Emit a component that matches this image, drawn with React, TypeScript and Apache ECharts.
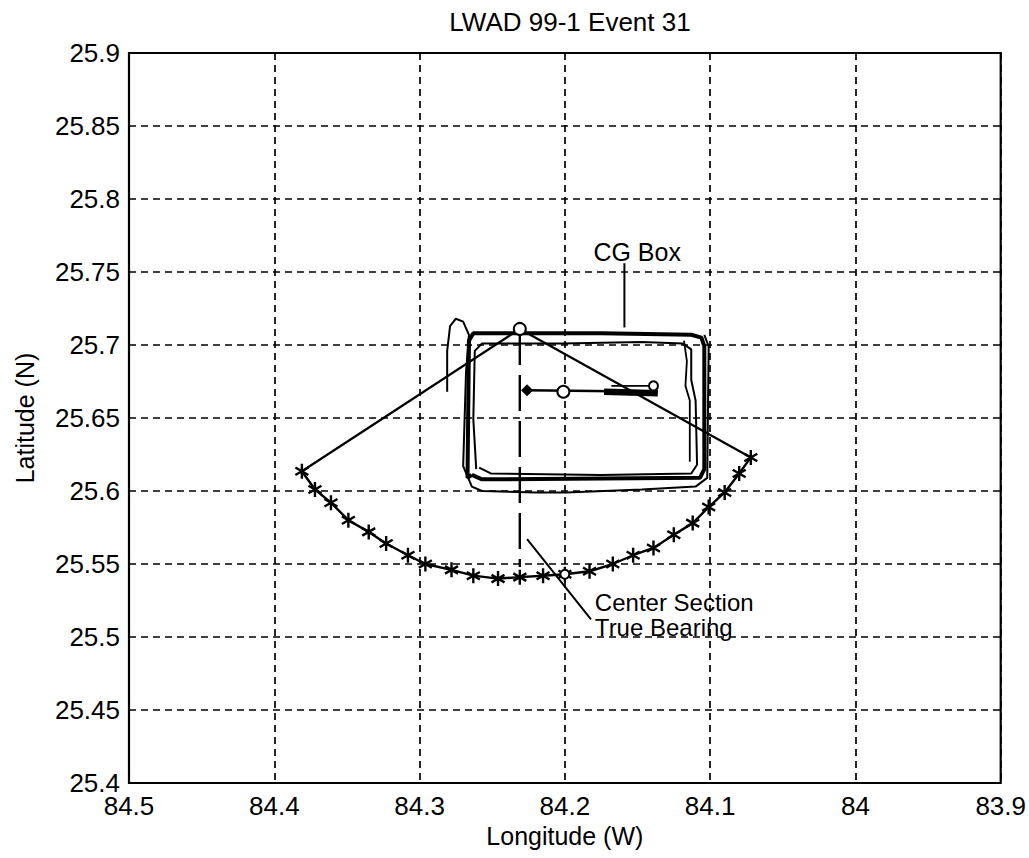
import React, { useEffect, useRef } from 'react';
import * as echarts from 'echarts';

const TITLE = 'LWAD 99-1 Event 31';
const X_NAME = 'Longitude (W)';
const Y_NAME = 'Latitude (N)';
const X_MIN = 83.9;
const X_MAX = 84.5;
const X_STEP = 0.1;
const Y_MIN = 25.4;
const Y_MAX = 25.9;
const Y_STEP = 0.05;

// Sonobuoy arc (asterisks)
const arcStars: [number, number][] = [
  [84.381, 25.6135], [84.372, 25.601], [84.361, 25.592], [84.349, 25.58],
  [84.335, 25.572], [84.323, 25.564], [84.308, 25.556], [84.296, 25.55],
  [84.278, 25.546], [84.263, 25.542], [84.246, 25.54], [84.231, 25.541],
  [84.215, 25.542], [84.2, 25.543], [84.183, 25.545], [84.167, 25.55],
  [84.153, 25.556], [84.139, 25.561], [84.125, 25.57], [84.112, 25.578],
  [84.101, 25.589], [84.09, 25.599], [84.08, 25.612], [84.072, 25.623],
];

// Sector edges from arc ends to apex
const sectorEdges: [number, number][] = [
  [84.381, 25.6135], [84.231, 25.711], [84.072, 25.623],
];

// Center section true bearing (dashed)
const bearingLine: [number, number][] = [[84.231, 25.711], [84.231, 25.548]];

// CG box tracks
const cgOuter: [number, number][] = [
  [84.264, 25.611], [84.267, 25.609], [84.266, 25.703], [84.263, 25.708],
  [84.175, 25.708], [84.113, 25.707], [84.106, 25.705], [84.104, 25.699],
  [84.104, 25.615], [84.107, 25.609], [84.257, 25.608], [84.264, 25.611],
];
const cgInner: [number, number][] = [
  [84.261, 25.615], [84.263, 25.649], [84.262, 25.696], [84.257, 25.701],
  [84.202, 25.701], [84.147, 25.702], [84.119, 25.701], [84.113, 25.697],
  [84.113, 25.676], [84.11, 25.662], [84.109, 25.618], [84.113, 25.612],
  [84.175, 25.611], [84.251, 25.612], [84.259, 25.616],
];
const cgInnerRight: [number, number][] = [
  [84.118, 25.703], [84.116, 25.689], [84.117, 25.672], [84.114, 25.662],
  [84.114, 25.62],
];
const cgWander: [number, number][] = [
  [84.281, 25.668], [84.281, 25.696], [84.279, 25.713], [84.275, 25.718],
  [84.27, 25.716], [84.266, 25.707], [84.268, 25.682], [84.27, 25.617],
  [84.264, 25.603], [84.257, 25.6], [84.22, 25.599], [84.199, 25.599],
  [84.147, 25.601], [84.11, 25.603], [84.102, 25.609], [84.101, 25.699],
  [84.104, 25.707],
];

// Inner track through the box
const innerTrack: [number, number][] = [[84.226, 25.669], [84.136, 25.668]];
const innerTrackThick: [number, number][] = [[84.173, 25.668], [84.136, 25.667]];
const innerTrackUpper: [number, number][] = [[84.168, 25.672], [84.139, 25.672]];

const circleMarks: [number, number][] = [
  [84.231, 25.711], [84.201, 25.668],
];
const smallCircleMarks: [number, number][] = [[84.139, 25.672], [84.2, 25.543]];
const diamondMarks: [number, number][] = [[84.226, 25.669]];

// Annotation pointers and labels
const cgPointer: [number, number][] = [[84.159, 25.756], [84.159, 25.712]];
const bearingPointer: [number, number][] = [[84.226, 25.567], [84.182, 25.512]];
const cgLabel = { text: 'CG Box', at: [84.18, 25.755] as [number, number] };
const bearingLabel = { text: 'Center Section\nTrue Bearing', at: [84.179, 25.5317] as [number, number] };

const FONT = '"Liberation Sans", Arial, Helvetica, sans-serif';
const STAR = 'path://M5,0L5,10M0.67,2.5L9.33,7.5M0.67,7.5L9.33,2.5';

const fmt = (v: number) => String(+v.toFixed(2));

function lineSeries(data: [number, number][], width: number) {
  return {
    type: 'line',
    data,
    symbol: 'none',
    silent: true,
    lineStyle: { color: '#000', width },
    z: 3,
  };
}

function textSeries(at: [number, number], text: string, vAlign: string, extra: any = {}) {
  return {
    type: 'scatter', silent: true, z: 6,
    data: [at], symbolSize: 1,
    itemStyle: { color: 'rgba(0,0,0,0)', opacity: 1 },
    label: {
      show: true, position: [0, 0], align: 'left', verticalAlign: vAlign,
      formatter: text, fontFamily: FONT, fontSize: 25, color: '#000',
      textBorderWidth: 0, ...extra,
    },
  };
}

export default function App() {
  const ref = useRef<HTMLDivElement>(null);
  useEffect(() => {
    document.body.style.margin = '0';
    if (!ref.current) return;
    const chart = echarts.init(ref.current, null, { renderer: 'svg' });
    const dashed = { color: '#000', width: 1.7, type: [7, 5] as number[] };
    chart.setOption({
      animation: false,
      backgroundColor: '#fff',
      textStyle: { fontFamily: FONT, color: '#000' },
      title: {
        text: TITLE,
        left: 565,
        top: 4,
        textAlign: 'center',
        textStyle: { fontFamily: FONT, fontSize: 26, fontWeight: 'normal', color: '#000' },
      },
      grid: {
        left: 129,
        right: 28,
        top: 53,
        bottom: 75,
        show: true,
        borderColor: '#000',
        borderWidth: 2.2,
        backgroundColor: '#fff',
      },
      xAxis: {
        type: 'value',
        inverse: true,
        min: X_MIN,
        max: X_MAX,
        interval: X_STEP,
        name: X_NAME,
        nameLocation: 'middle',
        nameGap: 40,
        nameTextStyle: { fontFamily: FONT, fontSize: 25, color: '#000' },
        axisLine: { show: false },
        axisTick: { show: false },
        axisLabel: {
          fontFamily: FONT, fontSize: 26, color: '#000', margin: 10,
          formatter: fmt, showMinLabel: true, showMaxLabel: true,
        },
        splitLine: { show: true, lineStyle: dashed },
      },
      yAxis: {
        type: 'value',
        min: Y_MIN,
        max: Y_MAX,
        interval: Y_STEP,
        name: Y_NAME,
        nameLocation: 'middle',
        nameGap: 92,
        nameRotate: 90,
        nameTextStyle: { fontFamily: FONT, fontSize: 25, color: '#000' },
        axisLine: { show: false },
        axisTick: { show: false },
        axisLabel: {
          fontFamily: FONT, fontSize: 26, color: '#000', margin: 9,
          formatter: fmt, showMinLabel: true, showMaxLabel: true,
        },
        splitLine: { show: true, lineStyle: dashed },
      },
      series: [
        lineSeries(cgWander, 2),
        lineSeries(cgInner, 2),
        lineSeries(cgInnerRight, 1.8),
        lineSeries(cgOuter, 4),
        lineSeries(sectorEdges, 2.2),
        {
          type: 'line', data: bearingLine, symbol: 'none', silent: true, z: 3,
          lineStyle: { color: '#000', width: 2.4, type: [36, 10] },
        },
        lineSeries(innerTrack, 2.6),
        lineSeries(innerTrackThick, 6.5),
        lineSeries(innerTrackUpper, 1.8),
        {
          type: 'line', data: arcStars, silent: true, z: 4,
          symbol: STAR, symbolSize: 15, symbolKeepAspect: true, showAllSymbol: true,
          lineStyle: { color: '#000', width: 2.4 },
          itemStyle: { color: 'rgba(0,0,0,0)', borderColor: '#000', borderWidth: 2.4 },
        },
        {
          type: 'scatter', data: circleMarks, silent: true, z: 5,
          symbol: 'circle', symbolSize: 12,
          itemStyle: { color: '#fff', borderColor: '#000', borderWidth: 2, opacity: 1 },
        },
        {
          type: 'scatter', data: smallCircleMarks, silent: true, z: 5,
          symbol: 'circle', symbolSize: 9,
          itemStyle: { color: '#fff', borderColor: '#000', borderWidth: 2, opacity: 1 },
        },
        {
          type: 'scatter', data: diamondMarks, silent: true, z: 5,
          symbol: 'diamond', symbolSize: 11,
          itemStyle: { color: '#000', borderColor: '#000', borderWidth: 1, opacity: 1 },
        },
        lineSeries(cgPointer, 2),
        lineSeries(bearingPointer, 2),
        textSeries(cgLabel.at, cgLabel.text, 'bottom'),
        textSeries(bearingLabel.at, bearingLabel.text, 'top', { fontSize: 24, lineHeight: 25 }),
      ],
    });
    return () => chart.dispose();
  }, []);
  return <div ref={ref} style={{ width: 1029, height: 858 }} />;
}
